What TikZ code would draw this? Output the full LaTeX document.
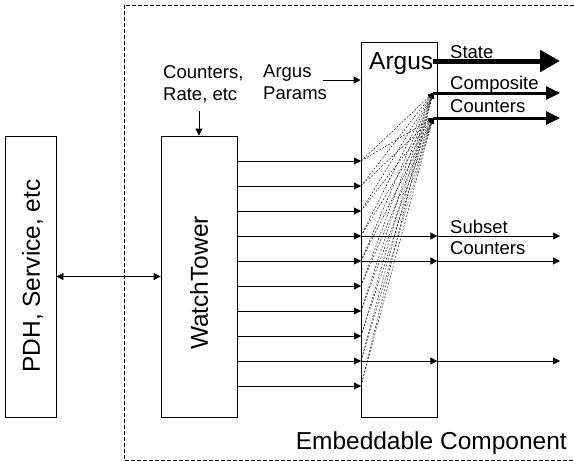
\documentclass[tikz,border=0pt]{standalone}
\usepackage{fontspec}
\setmainfont{Liberation Sans}
\usetikzlibrary{arrows.meta}

\tikzset{
    blk/.style={draw, line width=0.8pt, inner sep=0pt},
    small/.style={font=\fontsize{18.5}{22}\selectfont, inner sep=0pt, align=left},
    big/.style={font=\fontsize{24.5}{28}\selectfont, inner sep=0pt},
    feed/.style={line width=0.8pt, -{Triangle[length=7pt,width=7pt]}},
    fan/.style={line width=0.4pt, dash pattern=on 2pt off 1.5pt, -{Triangle[length=5pt,width=5pt]}},
}

\begin{document}
\begin{tikzpicture}[x=1pt,y=-1pt]
            \useasboundingbox (0,0) rectangle (574,461);
            \draw [dash pattern=on 4pt off 2pt, line width=0.8pt] (124,5) rectangle (590,460);

            \node [blk, minimum width=51pt, minimum height=281pt] (P) at (30.5,276.5) {};
            \node [big, rotate=90] (PL) at (32.5,276) {PDH, Service, etc};
            \node [blk, minimum width=76pt, minimum height=281pt] (W) at (199,276.5) {};
            \node [big, rotate=90] (WL) at (199,283) {WatchTower};
            \node [blk, minimum width=76pt, minimum height=375pt] (A) at (399,229.5) {};
            \node [big, anchor=base west] (AL) at (369,69) {Argus};

            \draw [feed, {Triangle[length=7pt,width=7pt]}-{Triangle[length=7pt,width=7pt]}] (P.east) -- (W.west);

            % inputs
            \node [small, anchor=north west] (CR) at (163,65) {Counters,\\Rate, etc};
            \coordinate (CRin) at (199,111);
            \draw [feed] (CRin) -- (W.north);
            \node [small, anchor=north west] (AP) at (263,65) {Argus\\Params};
            \coordinate (APin) at (323,80);
            \draw [feed] (APin) -- (APin -| A.west);

            % outputs
            \coordinate (St) at (433,61);
            \coordinate (StOut) at (560,61);
            \coordinate (Comp) at (433,93);
            \coordinate (CompOut) at (560,93);
            \coordinate (Cnt) at (433,118);
            \coordinate (CntOut) at (560,118);
            \draw [line width=5pt, -{Triangle[length=20pt,width=21pt]}] (St) -- (StOut);
            \draw [line width=3pt, -{Triangle[length=14pt,width=13pt]}] (Comp) -- (CompOut);
            \draw [line width=3pt, -{Triangle[length=14pt,width=13pt]}] (Cnt) -- (CntOut);
            \node [small, anchor=base west] (SL) at (450,58) {State};
            \node [small, anchor=base west] (CL) at (450,89) {Composite};
            \node [small, anchor=base west] (KL) at (450,112) {Counters};
            \node [small, anchor=base west] (SSL) at (450,233) {Subset};
            \node [small, anchor=base west] (SCL) at (450,254) {Counters};

            \foreach \i in {0,...,9} {
                \coordinate (in\i) at (361,{161+25*\i});
                \draw [feed] (W.east |- in\i) -- (in\i);
                \draw [fan] (in\i) -- (Comp);
                \draw [fan] (in\i) -- (Cnt);
            }
            \foreach \i in {3,4,8} {
                \coordinate (out\i) at (560,{161+25*\i});
                \draw [feed] (in\i) -- (A.east |- in\i);
                \draw [feed] (A.east |- in\i) -- (out\i);
            }

            \node [big, anchor=base east] (EL) at (567,449) {Embeddable Component};
        \end{tikzpicture}
\end{document}
